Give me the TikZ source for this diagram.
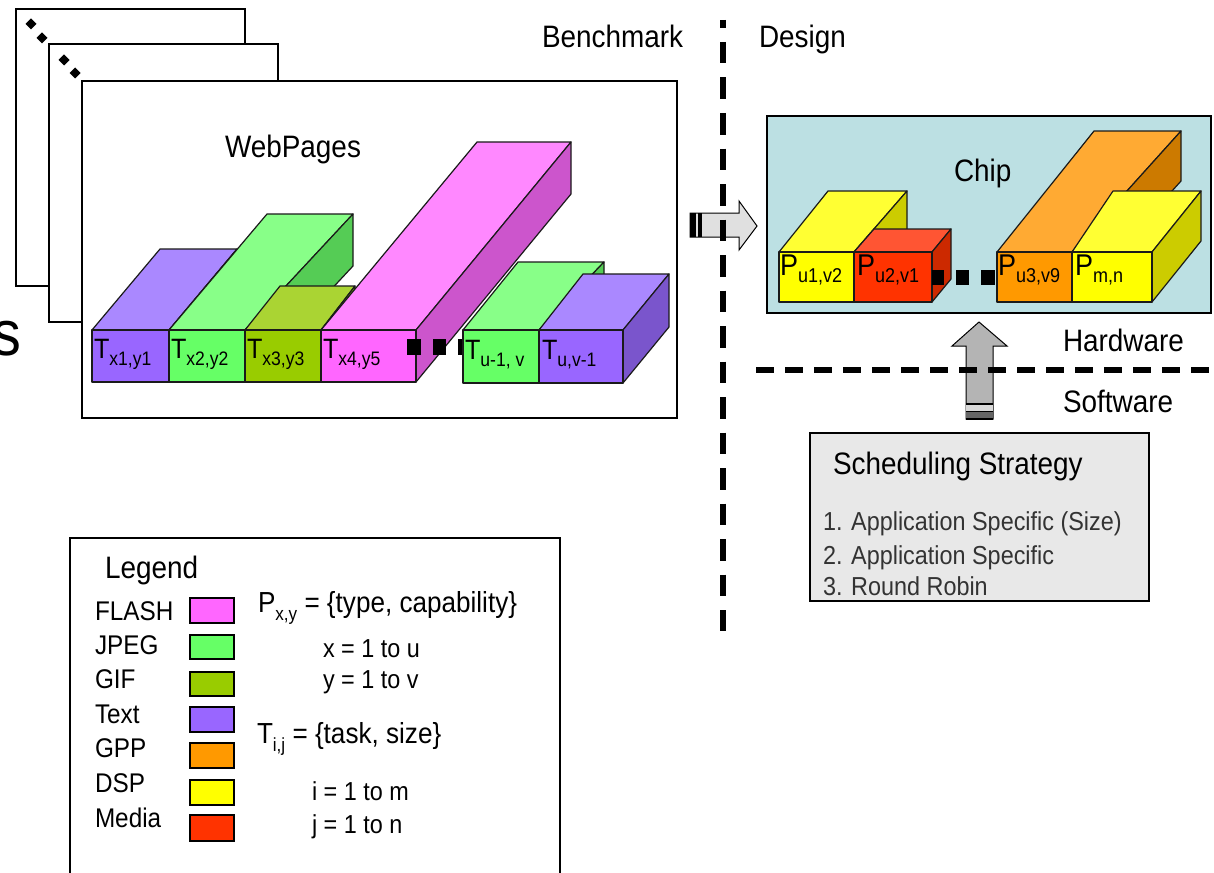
\documentclass[tikz,border=0pt]{standalone}
\usepackage{fontspec}
\setmainfont{Liberation Sans}[FakeStretch=0.9]
\definecolor{edge}{HTML}{1A1A1A}
\definecolor{purp}{HTML}{9966FF}\definecolor{purptop}{HTML}{AA88FF}\definecolor{purpside}{HTML}{7A55CC}
\definecolor{grn}{HTML}{66FF66}\definecolor{grntop}{HTML}{88FF88}\definecolor{grnside}{HTML}{55CC55}
\definecolor{olv}{HTML}{99CC00}\definecolor{olvtop}{HTML}{AAD433}\definecolor{olvside}{HTML}{7AA300}
\definecolor{pnk}{HTML}{FF66FF}\definecolor{pnktop}{HTML}{FF88FF}\definecolor{pnkside}{HTML}{CC55CC}
\definecolor{yel}{HTML}{FFFF00}\definecolor{yeltop}{HTML}{FFFF33}\definecolor{yelside}{HTML}{CCCC00}
\definecolor{med}{HTML}{FF3300}\definecolor{medtop}{HTML}{FF5533}\definecolor{medside}{HTML}{CC2900}
\definecolor{org}{HTML}{FF9900}\definecolor{orgtop}{HTML}{FFAA33}\definecolor{orgside}{HTML}{CC7A00}
\definecolor{chipbg}{HTML}{BCE0E3}
\definecolor{schedbg}{HTML}{E8E8E8}
\definecolor{arrowlt}{HTML}{E0E0E0}
\definecolor{arrowdk}{HTML}{B4B4B4}
\newcommand\sbs[3]{\raisebox{-#1pt}{\fontsize{#2}{#2}\selectfont #3}}
% #1 x1, #2 x2, #3 ytop, #4 ybot, #5 back x1, #6 back x2, #7 back y, #8 colour
\newcommand\mycube[8]{%
  \path[facestyle,fill=#8top] (#1,#3) -- (#5,#7) -- (#6,#7) -- (#2,#3) -- cycle;
  \path[facestyle,fill=#8side] (#2,#3) -- (#6,#7) -- ({#6},{#7+#4-#3}) -- (#2,#4) -- cycle;
  \path[facestyle,fill=#8] (#1,#3) rectangle (#2,#4);
}
\newcommand\dmd[2]{\fill ({#1},{#2-5.5}) -- ({#1+5.5},{#2}) -- ({#1},{#2+5.5}) -- ({#1-5.5},{#2}) -- cycle;}
\begin{document}
\begin{tikzpicture}[x=1pt,y=-1pt,
  facestyle/.style={draw=edge,line width=1.2pt,line join=round},
  page/.style={draw=black,line width=2.2pt,fill=white},
  txt/.style={anchor=base west,inner sep=0pt,outer sep=0pt},
  big/.style={txt,font=\fontsize{31}{31}\selectfont},
  mid/.style={txt,font=\fontsize{27}{27}\selectfont},
  small/.style={txt,font=\fontsize{26}{26}\selectfont},
  lbl/.style={txt,font=\fontsize{28}{28}\selectfont},
  plbl/.style={txt,font=\fontsize{30}{30}\selectfont},
  swatch/.style={draw=black,line width=2pt},
  sq/.style={fill=black},
  divider/.style={line width=6pt,draw=black}]
\useasboundingbox (0,0) rectangle (1214,872);
\fill[white] (0,0) rectangle (1214,872);

% stacked pages
\path[page] (16,9) rectangle (245,286);
\dmd{31}{24}\dmd{42}{38}
\path[page] (49,44) rectangle (278,322);
\dmd{64}{60}\dmd{75}{73}
\path[page] (82,81) rectangle (677,418);
\node[txt,font=\fontsize{64}{64}\selectfont,anchor=base east] (cut) at (21,355) {s};

\node[big] (web) at (225,157) {WebPages};

% task blocks
\mycube{92}{169}{330}{382}{160}{237}{249}{purp}
\mycube{169}{245}{330}{382}{267}{353}{214}{grn}
\mycube{245}{321}{330}{382}{280}{355}{286}{olv}
\mycube{321}{416}{330}{382}{477}{571}{142}{pnk}
\fill[sq] (407,339) rectangle (421,355);
\fill[sq] (433,339) rectangle (446,355);
\fill[sq] (458,339) rectangle (472,355);
\mycube{463}{539}{330}{383}{518}{604}{262}{grn}
\mycube{539}{623}{330}{383}{583}{669}{274}{purp}

\node[lbl] (t1) at (94,358) {T\sbs{7}{19.5}{x1,y1}};
\node[lbl] (t2) at (171,358) {T\sbs{7}{19.5}{x2,y2}};
\node[lbl] (t3) at (247,358) {T\sbs{7}{19.5}{x3,y3}};
\node[lbl] (t4) at (323,358) {T\sbs{7}{19.5}{x4,y5}};
\node[lbl] (t5) at (465,359) {T\sbs{7}{19.5}{u-1, v}};
\node[lbl] (t6) at (542,359) {T\sbs{7}{19.5}{u,v-1}};

% headings
\node[big] (bench) at (542,48) {Benchmark};
\node[big] (design) at (759,48) {Design};

% chip
\path[draw=black,line width=2pt,fill=chipbg] (767,116) rectangle (1211,313);
\node[big] (chip) at (954,181) {Chip};
\mycube{779}{854}{252}{302}{828}{907}{191}{yel}
\mycube{854}{932}{252}{302}{874}{951}{229}{med}
\fill[sq] (932,270) rectangle (944,285);
\fill[sq] (956,270) rectangle (969,285);
\fill[sq] (981,270) rectangle (995,285);
\mycube{997}{1072}{252}{302}{1094}{1181}{131}{org}
\mycube{1072}{1152}{252}{302}{1113}{1201}{191}{yel}
\node[plbl] (p1) at (780,275) {P\sbs{7}{20}{u1,v2}};
\node[plbl] (p2) at (857,275) {P\sbs{7}{20}{u2,v1}};
\node[plbl] (p3) at (998,275) {P\sbs{7}{20}{u3,v9}};
\node[plbl] (p4) at (1075,275) {P\sbs{7}{20}{m,n}};

% right block arrow (benchmark -> chip)
\path[draw=black,line width=1pt,fill=arrowlt,line join=miter]
  (690,213) -- (739,213) -- (739,201) -- (757,226) -- (739,250) -- (739,237) -- (690,237) -- cycle;
\fill[black] (690,213) rectangle (696,237);
\fill[black] (698,213) rectangle (702,237);

% up block arrow (software -> hardware)
\path[draw=black,line width=1pt,fill=arrowdk,line join=miter]
  (966,419) -- (966,346) -- (952,346) -- (979,322) -- (1007,346) -- (993,346) -- (993,419) -- cycle;
\fill[white!85!black] (966,404) rectangle (993,411);
\fill[black!60] (966,412) rectangle (993,419);
\draw[line width=1.2pt] (966,404) -- (993,404);
\draw[line width=1.2pt] (966,411.5) -- (993,411.5);
\draw[line width=1.5pt] (966,419) -- (993,419);

\node[big] (hw) at (1063,351) {Hardware};
\node[big] (sw) at (1063,412) {Software};

% scheduling strategy
\path[draw=black,line width=2pt,fill=schedbg] (810,433) rectangle (1149,601);
\node[big] (schedt) at (833,474) {Scheduling Strategy};
\node[small,text=black!80] (s1) at (823,530) {1. Application Specific (Size)};
\node[small,text=black!80] (s2) at (823,564) {2. Application Specific};
\node[small,text=black!80] (s3) at (823,595) {3. Round Robin};

% dividers
\draw[divider,dash pattern=on 21.5pt off 14pt,dash phase=13.5pt] (723,20) -- (723,631);
\draw[divider,dash pattern=on 18pt off 11pt] (756,370) -- (1214,370);

% legend
\draw[line width=2pt] (70,880) -- (70,538) -- (560,538) -- (560,880);
\node[big] (leg) at (105,578) {Legend};
\node[mid] (l1) at (95,620) {FLASH};
\node[mid] (l2) at (95,654) {JPEG};
\node[mid] (l3) at (95,688) {GIF};
\node[mid] (l4) at (95,723) {Text};
\node[mid] (l5) at (95,757) {GPP};
\node[mid] (l6) at (95,792) {DSP};
\node[mid] (l7) at (95,827) {Media};
\path[swatch,fill=pnk] (190,598) rectangle (234,623);
\path[swatch,fill=grn] (190,635) rectangle (234,659);
\path[swatch,fill=olv] (190,672) rectangle (234,696);
\path[swatch,fill=purp] (190,707) rectangle (234,732);
\path[swatch,fill=org] (190,743) rectangle (234,768);
\path[swatch,fill=yel] (190,780) rectangle (234,805);
\path[swatch,fill=med] (190,815) rectangle (234,841);

\node[txt,font=\fontsize{29}{29}\selectfont] (pdef) at (258,612) {P\sbs{8}{19}{x,y} = \{type, capability\}};
\node[small] (xr) at (323,657) {x = 1 to u};
\node[small] (yr) at (323,688) {y = 1 to v};
\node[txt,font=\fontsize{29}{29}\selectfont] (tdef) at (257,743) {T\sbs{8}{19}{i,j} = \{task, size\}};
\node[small] (ir) at (312,800) {i = 1 to m};
\node[small] (jr) at (312,833) {j = 1 to n};
\end{tikzpicture}
\end{document}
